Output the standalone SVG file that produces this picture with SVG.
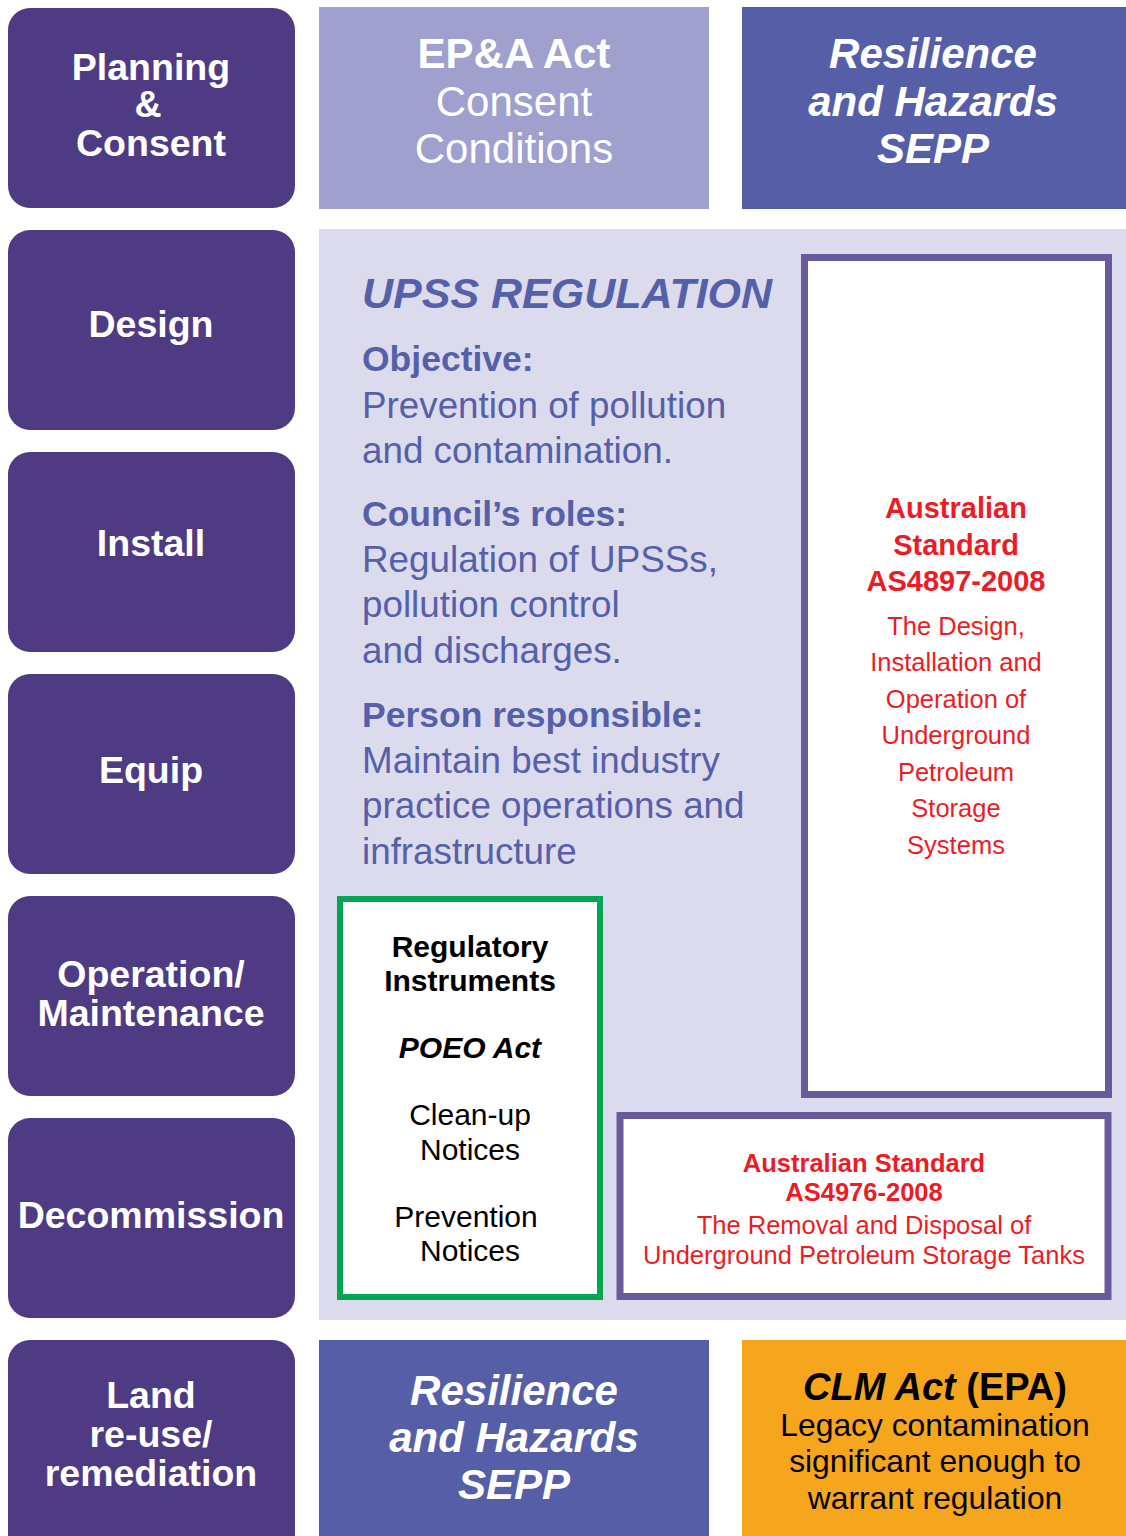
<svg xmlns="http://www.w3.org/2000/svg" width="1126" height="1536" viewBox="0 0 1126 1536">
<style>
text{font-family:"Liberation Sans",Arial,Helvetica,sans-serif;}
.stage{fill:#4e3b84;}
.st{fill:#fff;font-weight:bold;font-size:37.5px;text-anchor:middle;}
.w{fill:#fff;text-anchor:middle;font-size:42px;}
.b{font-weight:bold;}
.bi{font-weight:bold;font-style:italic;}
.up{fill:#5560a8;}
.uh{font-size:35.5px;font-weight:bold;}
.ut{font-size:36.8px;}
.red{fill:#ed1c24;text-anchor:middle;}
.blk{fill:#000;text-anchor:middle;}
</style>
<rect width="1126" height="1536" fill="#fff"/>
<g id="stages">
<g id="planning"><rect class="stage" x="8" y="8" width="287" height="200" rx="22"/><text class="st" x="151" y="80">Planning</text><text class="st" x="148" y="117">&amp;</text><text class="st" x="151" y="156">Consent</text></g>
<g id="design"><rect class="stage" x="8" y="230" width="287" height="200" rx="22"/><text class="st" x="151" y="337">Design</text></g>
<g id="install"><rect class="stage" x="8" y="452" width="287" height="200" rx="22"/><text class="st" x="151" y="556">Install</text></g>
<g id="equip"><rect class="stage" x="8" y="674" width="287" height="200" rx="22"/><text class="st" x="151" y="783">Equip</text></g>
<g id="operation"><rect class="stage" x="8" y="896" width="287" height="200" rx="22"/><text class="st" x="151" y="987" font-size="38.5">Operation/</text><text class="st" x="151" y="1026" font-size="38.5">Maintenance</text></g>
<g id="decommission"><rect class="stage" x="8" y="1118" width="287" height="200" rx="22"/><text class="st" x="151" y="1228">Decommission</text></g>
<g id="land"><rect class="stage" x="8" y="1340" width="287" height="220" rx="22"/><text class="st" x="151" y="1408" font-size="38.5">Land</text><text class="st" x="151" y="1447" font-size="38.5">re-use/</text><text class="st" x="151" y="1486" font-size="38.5">remediation</text></g>
</g>
<g id="epa-act"><rect x="319" y="7" width="390" height="202" fill="#a0a0ce"/><text class="w b" x="514" y="68">EP&amp;A Act</text><text class="w" x="514" y="116" font-size="43">Consent</text><text class="w" x="514" y="163" font-size="43">Conditions</text></g>
<g id="sepp-top"><rect x="742" y="7" width="384" height="202" fill="#565ea8"/><text class="w bi" x="933" y="68">Resilience</text><text class="w bi" x="933" y="116">and Hazards</text><text class="w bi" x="933" y="163">SEPP</text></g>
<g id="upss"><rect x="319" y="229" width="807" height="1091" fill="#dcdbee"/>
<text class="up bi" x="362" y="308" font-size="43">UPSS REGULATION</text>
<text class="up uh" x="362" y="371">Objective:</text>
<text class="up ut" x="362" y="418">Prevention of pollution</text>
<text class="up ut" x="362" y="463">and contamination.</text>
<text class="up uh" x="362" y="526">Council’s roles:</text>
<text class="up ut" x="362" y="572">Regulation of UPSSs,</text>
<text class="up ut" x="362" y="617">pollution control</text>
<text class="up ut" x="362" y="663">and discharges.</text>
<text class="up uh" x="362" y="727">Person responsible:</text>
<text class="up ut" x="362" y="773">Maintain best industry</text>
<text class="up ut" x="362" y="818">practice operations and</text>
<text class="up ut" x="362" y="864">infrastructure</text>
</g>
<g id="as4897"><rect x="804.5" y="257.5" width="304" height="837" fill="#fff" stroke="#685a9b" stroke-width="7"/>
<g font-size="29" font-weight="bold"><text class="red" x="956" y="518">Australian</text><text class="red" x="956" y="555">Standard</text><text class="red" x="956" y="591">AS4897-2008</text></g>
<g font-size="25.5"><text class="red" x="956" y="635">The Design,</text><text class="red" x="956" y="671">Installation and</text><text class="red" x="956" y="708">Operation of</text><text class="red" x="956" y="744">Underground</text><text class="red" x="956" y="781">Petroleum</text><text class="red" x="956" y="817">Storage</text><text class="red" x="956" y="854">Systems</text></g>
</g>
<g id="instruments"><rect x="340" y="899" width="260" height="398" fill="#fff" stroke="#00a651" stroke-width="6"/>
<g font-size="30"><text class="blk b" x="470" y="957">Regulatory</text><text class="blk b" x="470" y="991">Instruments</text><text class="blk bi" x="470" y="1058">POEO Act</text><text class="blk" x="470" y="1125">Clean-up</text><text class="blk" x="470" y="1160">Notices</text><text class="blk" x="466" y="1227">Prevention</text><text class="blk" x="470" y="1261">Notices</text></g>
</g>
<g id="as4976"><rect x="620" y="1115.5" width="488" height="181" fill="#fff" stroke="#685a9b" stroke-width="7"/>
<g font-size="25.5"><text class="red b" x="864" y="1172">Australian Standard</text><text class="red b" x="864" y="1201">AS4976-2008</text><text class="red" x="864" y="1234">The Removal and Disposal of</text><text class="red" x="864" y="1264">Underground Petroleum Storage Tanks</text></g>
</g>
<g id="sepp-bottom"><rect x="319" y="1340" width="390" height="200" fill="#565ea8"/><text class="w bi" x="514" y="1405">Resilience</text><text class="w bi" x="514" y="1452">and Hazards</text><text class="w bi" x="514" y="1499">SEPP</text></g>
<g id="clm-act"><rect x="742" y="1340" width="384" height="200" fill="#f6a61c"/>
<text class="blk" x="935" y="1400" font-size="38"><tspan class="bi">CLM Act</tspan><tspan class="b"> (EPA)</tspan></text>
<g font-size="31.8"><text class="blk" x="935" y="1436">Legacy contamination</text><text class="blk" x="935" y="1472">significant enough to</text><text class="blk" x="935" y="1509">warrant regulation</text></g>
</g>
<g id="connectors"></g>
</svg>
